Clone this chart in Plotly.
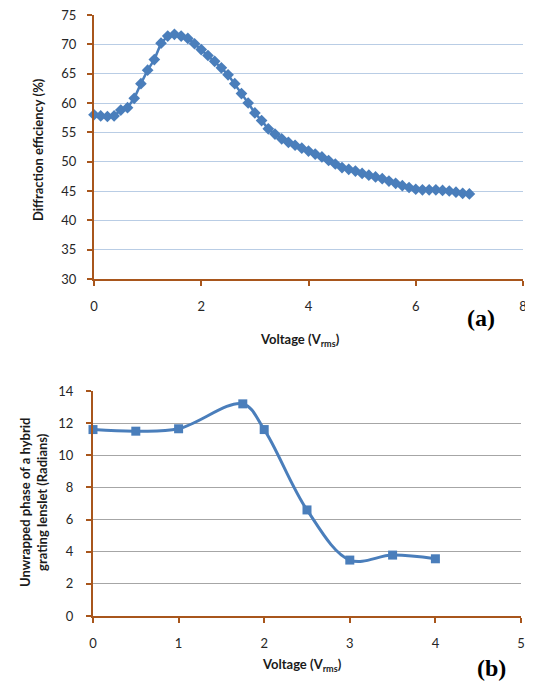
import plotly.graph_objects as go

# ---- data (a) ----
voltage_a = [0.000, 0.125, 0.250, 0.375, 0.500, 0.625, 0.750, 0.875, 1.000, 1.125,
             1.250, 1.375, 1.500, 1.625, 1.750, 1.875, 2.000, 2.125, 2.250, 2.375,
             2.500, 2.625, 2.750, 2.875, 3.000, 3.125, 3.250, 3.375, 3.500, 3.625,
             3.750, 3.875, 4.000, 4.125, 4.250, 4.375, 4.500, 4.625, 4.750, 4.875,
             5.000, 5.125, 5.250, 5.375, 5.500, 5.625, 5.750, 5.875, 6.000, 6.125,
             6.250, 6.375, 6.500, 6.625, 6.750, 6.875, 7.000]
efficiency_a = [58.0, 57.8, 57.7, 57.8, 58.8, 59.2, 60.8, 63.3, 65.6, 67.4,
                70.2, 71.4, 71.7, 71.4, 71.0, 70.1, 69.1, 68.1, 67.1, 66.0,
                64.8, 63.3, 61.6, 60.0, 58.3, 57.0, 55.6, 54.7, 53.9, 53.3,
                52.8, 52.3, 51.8, 51.3, 50.8, 50.2, 49.6, 49.0, 48.7, 48.4,
                48.0, 47.7, 47.4, 47.1, 46.7, 46.3, 45.9, 45.6, 45.3, 45.2,
                45.2, 45.2, 45.1, 45.0, 44.8, 44.6, 44.5]

# ---- data (b) ----
voltage_b = [0, 0.5, 1, 1.75, 2, 2.5, 3, 3.5, 4]
phase_b = [11.6, 11.5, 11.65, 13.2, 11.6, 6.6, 3.48, 3.79, 3.56]

yticks_a = [30, 35, 40, 45, 50, 55, 60, 65, 70, 75]
xticks_a = [0, 2, 4, 6, 8]
yticks_b = [0, 2, 4, 6, 8, 10, 12, 14]
xticks_b = [0, 1, 2, 3, 4, 5]

BLUE = "#4A7EBB"
BROWN = "#A8561C"
FONT = "Lato"
W, H = 533, 690
OFF = 8  # page body margin offset

def fx(p):
    return (p - OFF) / W

def fy(p):
    return 1 - (p - OFF) / H

fig = go.Figure()
fig.add_trace(go.Scatter(
    x=voltage_a, y=efficiency_a, mode="lines+markers",
    line=dict(color=BLUE, width=2.5),
    marker=dict(symbol="diamond", size=9, color=BLUE),
    xaxis="x", yaxis="y", showlegend=False, cliponaxis=False))
fig.add_trace(go.Scatter(
    x=voltage_b, y=phase_b, mode="lines+markers",
    line=dict(color=BLUE, width=3, shape="spline", smoothing=1.0),
    marker=dict(symbol="square", size=9, color=BLUE),
    xaxis="x2", yaxis="y2", showlegend=False, cliponaxis=False))

tickfont = dict(family=FONT, size=13, color="#262626")
axis_common = dict(showline=True, linecolor=BROWN, linewidth=2,
                   ticks="outside", tickcolor=BROWN, ticklen=5, tickwidth=2,
                   tickfont=tickfont, zeroline=False, automargin=False,
                   ticklabeloverflow="allow")

fig.update_layout(
    width=W, height=H,
    margin=dict(l=0, r=0, t=0, b=0, autoexpand=False),
    paper_bgcolor="white", plot_bgcolor="white",
    xaxis=dict(domain=[fx(94), fx(523)], range=[0, 8], tickvals=xticks_a,
               showgrid=False, anchor="y", ticklabelstandoff=9, **axis_common),
    yaxis=dict(domain=[fy(279), fy(15)], range=[30, 75], tickvals=yticks_a,
               showgrid=True, gridcolor="#B9CDE5", gridwidth=1.3, anchor="x",
               ticklabelstandoff=8, **axis_common),
    xaxis2=dict(domain=[fx(93), fx(521)], range=[0, 5], tickvals=xticks_b,
                showgrid=False, anchor="y2", ticklabelstandoff=9, **axis_common),
    yaxis2=dict(domain=[fy(616), fy(391)], range=[0, 14], tickvals=yticks_b,
                showgrid=True, gridcolor="#A6A6A6", gridwidth=1.3, anchor="x2",
                ticklabelstandoff=10, **axis_common),
)

ann_title = dict(family=FONT, size=13, color="#1a1a1a")
common = dict(xref="paper", yref="paper", showarrow=False, xanchor="center", yanchor="middle")
fig.add_annotation(text="<b>Voltage (V<sub>rms</sub>)</b>", x=fx(300), y=fy(340), font=ann_title, **common)
fig.add_annotation(text="<b>Voltage (V<sub>rms</sub>)</b>", x=fx(302), y=fy(665), font=ann_title, **common)
fig.add_annotation(text="<b>Diffraction efficiency (%)</b>", x=fx(38), y=fy(150),
                   textangle=-90, font=ann_title, **common)
fig.add_annotation(text="<b>Unwrapped phase of a hybrid<br>grating lenslet (Radians)</b>",
                   x=fx(33), y=fy(503), textangle=-90, font=ann_title, **common)
fig.add_annotation(text="<b>(a)</b>", x=fx(481), y=fy(318),
                   font=dict(family="Liberation Serif", size=24, color="black"), **common)
fig.add_annotation(text="<b>(b)</b>", x=fx(491), y=fy(668),
                   font=dict(family="Liberation Serif", size=24, color="black"), **common)

fig.write_html("out.html")
